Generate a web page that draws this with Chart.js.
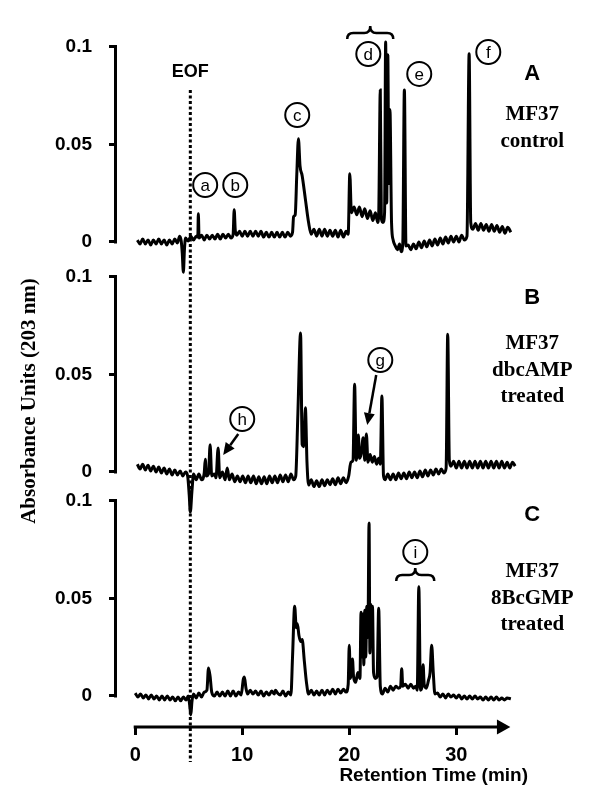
<!DOCTYPE html>
<html>
<head>
<meta charset="utf-8">
<script src="https://cdn.jsdelivr.net/npm/chart.js@4.4.0/dist/chart.umd.min.js"></script>
<style>
  body { margin: 0; background: #fff; }
  #wrap { position: relative; width: 600px; height: 800px; }
  #wrap canvas { position: absolute; left: 0; top: 0; }
</style>
</head>
<body>
<div id="wrap">
  <canvas id="chartA" width="600" height="800"></canvas>
  <canvas id="chartB" width="600" height="800"></canvas>
  <canvas id="chartC" width="600" height="800"></canvas>
</div>
<script>
// retention time (min), absorbance (AU)
const panelA = [
  [0.2,0.001],[0.45,-0.001],[0.7,0.0015],[0.95,-0.001],[1.2,0.001],[1.45,-0.0015],[1.7,0.001],[1.95,-0.001],
  [2.2,0.0015],[2.45,-0.001],[2.7,0.001],[2.95,-0.0015],[3.2,0.001],[3.45,-0.001],[3.7,0.0015],[3.95,-0.0005],
  [4.15,0.003],[4.3,0.0005],[4.4,-0.006],[4.5,-0.0155],[4.6,-0.004],[4.7,0.002],[4.95,0.0005],[5.2,0.003],
  [5.45,0.001],[5.7,0.003],[5.85,0.0025],[5.9,0.0145],[5.97,0.002],[6.2,0.0035],[6.45,0.001],[6.7,0.0035],
  [6.95,0.0015],[7.2,0.0035],[7.45,0.0015],[7.7,0.004],[7.95,0.0015],[8.2,0.004],[8.45,0.002],[8.7,0.004],
  [8.95,0.002],[9.15,0.004],[9.25,0.0165],[9.35,0.006],[9.5,0.0035],[9.75,0.0055],[10.0,0.003],[10.25,0.0055],
  [10.5,0.003],[10.75,0.0055],[11.0,0.003],[11.25,0.0055],[11.5,0.003],[11.75,0.0055],[12.0,0.0025],[12.25,0.005],
  [12.5,0.0025],[12.75,0.005],[13.0,0.0025],[13.25,0.005],[13.5,0.0025],[13.75,0.005],[14.0,0.0025],[14.25,0.005],
  [14.5,0.003],[14.7,0.005],[14.8,0.013],[14.95,0.014],[15.1,0.035],[15.25,0.053],[15.4,0.039],[15.6,0.034],
  [15.9,0.022],[16.2,0.01],[16.45,0.004],[16.7,0.0065],[16.95,0.003],[17.2,0.0065],[17.45,0.003],[17.7,0.0065],
  [17.95,0.003],[18.2,0.006],[18.45,0.003],[18.7,0.006],[18.95,0.0025],[19.2,0.006],[19.45,0.0025],[19.7,0.0055],
  [19.9,0.004],[20.05,0.035],[20.2,0.015],[20.45,0.018],[20.7,0.014],[20.95,0.018],[21.2,0.013],[21.45,0.017],
  [21.7,0.012],[21.95,0.016],[22.2,0.011],[22.45,0.015],[22.65,0.01],[22.75,0.014],[22.9,0.078],[23.0,0.012],
  [23.15,0.01],[23.3,0.015],[23.4,0.1025],[23.5,0.02],[23.6,0.096],[23.7,0.03],[23.8,0.068],[23.95,0.01],
  [24.1,0.001],[24.3,-0.002],[24.5,-0.004],[24.7,-0.001],[24.85,-0.005],[25.0,-0.001],[25.15,0.078],[25.3,-0.002],
  [25.5,-0.0015],[25.75,-0.004],[26.0,-0.001],[26.25,-0.0035],[26.5,0.0],[26.75,-0.003],[27.0,0.0005],[27.25,-0.0025],
  [27.5,0.001],[27.75,-0.002],[28.0,0.0015],[28.25,-0.0015],[28.5,0.002],[28.75,-0.001],[29.0,0.0025],[29.25,-0.0005],
  [29.5,0.003],[29.75,0.0],[30.0,0.003],[30.25,0.0],[30.5,0.0035],[30.75,0.001],[31.0,0.003],[31.2,0.0965],
  [31.35,0.01],[31.55,0.0065],[31.8,0.0095],[32.05,0.006],[32.3,0.0095],[32.55,0.006],[32.8,0.009],[33.05,0.0055],
  [33.3,0.009],[33.55,0.0055],[33.8,0.0085],[34.05,0.005],[34.3,0.008],[34.55,0.0045],[34.8,0.0075],[35.1,0.005]
];

const panelB = [
  [0.2,0.004],[0.45,0.0015],[0.7,0.004],[0.95,0.001],[1.2,0.0035],[1.45,0.0005],[1.7,0.003],[1.95,0.0],
  [2.2,0.0025],[2.45,-0.0005],[2.7,0.002],[2.95,-0.001],[3.2,0.0015],[3.45,-0.0015],[3.7,0.001],[3.95,-0.0015],
  [4.2,0.0005],[4.45,-0.002],[4.7,0.0],[4.9,-0.002],[5.05,-0.012],[5.15,-0.0205],[5.3,-0.01],[5.45,-0.001],
  [5.7,-0.004],[5.95,-0.001],[6.2,-0.004],[6.45,-0.0005],[6.55,0.0065],[6.65,-0.002],[6.85,-0.001],[7.0,0.014],
  [7.15,-0.002],[7.4,-0.001],[7.55,-0.003],[7.75,0.0123],[7.9,-0.003],[8.15,0.0],[8.4,-0.004],[8.6,0.002],
  [8.8,-0.004],[9.05,-0.001],[9.3,-0.005],[9.55,-0.002],[9.8,-0.005],[10.05,-0.002],[10.3,-0.0055],[10.55,-0.002],
  [10.8,-0.0055],[11.05,-0.002],[11.3,-0.006],[11.55,-0.0025],[11.8,-0.006],[12.05,-0.0025],[12.3,-0.006],[12.55,-0.002],
  [12.8,-0.0055],[13.05,-0.002],[13.3,-0.0055],[13.55,-0.0015],[13.8,-0.005],[14.05,-0.0015],[14.3,-0.005],[14.55,-0.001],
  [14.8,-0.004],[15.0,-0.002],[15.2,0.03],[15.45,0.0713],[15.6,0.014],[15.75,0.013],[15.9,0.033],[16.05,0.005],
  [16.2,-0.0067],[16.45,-0.004],[16.7,-0.0075],[16.95,-0.0045],[17.2,-0.0075],[17.45,-0.004],[17.7,-0.007],[17.95,-0.004],
  [18.2,-0.0065],[18.45,-0.0035],[18.7,-0.0065],[18.95,-0.003],[19.2,-0.006],[19.45,-0.003],[19.7,-0.0055],[19.95,-0.002],
  [20.15,0.005],[20.35,0.006],[20.5,0.045],[20.65,0.006],[20.85,0.019],[20.95,0.007],[21.1,0.009],[21.3,0.0175],
  [21.45,0.006],[21.6,0.0195],[21.75,0.005],[21.95,0.009],[22.15,0.005],[22.35,0.008],[22.55,0.004],[22.75,0.007],
  [22.9,0.004],[23.05,0.039],[23.2,-0.002],[23.35,-0.004],[23.6,-0.001],[23.85,-0.004],[24.1,-0.001],[24.35,-0.004],
  [24.6,-0.0005],[24.85,-0.0035],[25.1,-0.0005],[25.35,-0.0035],[25.6,0.0],[25.85,-0.003],[26.1,0.0],[26.35,-0.003],
  [26.6,0.0005],[26.85,-0.0025],[27.1,0.001],[27.35,-0.002],[27.6,0.001],[27.85,-0.0015],[28.1,0.0015],[28.35,-0.001],
  [28.6,0.0015],[28.85,-0.0005],[29.05,0.002],[29.2,0.0707],[29.35,0.006],[29.5,0.003],[29.75,0.0055],[30.0,0.002],
  [30.25,0.0055],[30.5,0.002],[30.75,0.0055],[31.0,0.002],[31.25,0.0055],[31.5,0.002],[31.75,0.0055],[32.0,0.002],
  [32.25,0.0055],[32.5,0.002],[32.75,0.0055],[33.0,0.002],[33.25,0.0055],[33.5,0.002],[33.75,0.0055],[34.0,0.002],
  [34.25,0.0055],[34.5,0.002],[34.75,0.005],[35.0,0.002],[35.25,0.005],[35.5,0.003]
];

const panelC = [
  [0.0,0.0015],[0.25,-0.0005],[0.5,0.001],[0.75,-0.001],[1.0,0.0005],[1.25,-0.0015],[1.5,0.0005],[1.75,-0.0015],
  [2.0,0.0],[2.25,-0.002],[2.5,0.0],[2.75,-0.002],[3.0,0.0],[3.25,-0.002],[3.5,-0.0005],[3.75,-0.0025],
  [4.0,-0.0005],[4.25,-0.0025],[4.5,-0.0005],[4.75,-0.002],[4.95,0.0],[5.1,-0.005],[5.2,-0.0097],[5.3,-0.003],
  [5.45,0.001],[5.7,-0.001],[5.95,0.0015],[6.2,-0.0005],[6.45,0.002],[6.7,0.003],[6.85,0.0144],[7.0,0.01],
  [7.15,0.002],[7.4,0.0],[7.65,0.002],[7.9,0.0],[8.15,0.002],[8.4,0.0],[8.65,0.0025],[8.9,0.0],
  [9.15,0.0025],[9.4,0.0],[9.65,0.002],[9.9,0.0005],[10.1,0.0085],[10.2,0.0097],[10.35,0.004],[10.5,0.001],
  [10.75,0.003],[11.0,0.001],[11.25,0.0025],[11.5,0.0005],[11.75,0.0025],[12.0,0.0],[12.25,0.002],[12.5,0.0005],
  [12.75,0.0025],[13.0,0.001],[13.1,0.003],[13.3,0.0015],[13.55,0.0005],[13.8,0.0025],[14.05,0.0],[14.3,0.002],
  [14.55,0.0005],[14.7,0.02],[14.9,0.046],[15.05,0.035],[15.15,0.037],[15.3,0.031],[15.45,0.028],[15.6,0.029],
  [15.8,0.018],[16.0,0.007],[16.2,0.001],[16.45,0.003],[16.7,0.0005],[16.95,0.0025],[17.2,0.0005],[17.45,0.003],
  [17.7,0.0005],[17.95,0.003],[18.2,0.001],[18.45,0.0035],[18.7,0.001],[18.95,0.0035],[19.2,0.0015],[19.45,0.0035],
  [19.7,0.002],[19.9,0.006],[20.0,0.026],[20.1,0.009],[20.3,0.019],[20.4,0.01],[20.6,0.007],[20.8,0.012],
  [21.0,0.009],[21.1,0.043],[21.18,0.02],[21.28,0.042],[21.36,0.016],[21.45,0.044],[21.54,0.02],[21.64,0.046],
  [21.74,0.03],[21.85,0.0887],[21.93,0.022],[22.02,0.047],[22.1,0.028],[22.17,0.046],[22.27,0.012],[22.45,0.009],
  [22.6,0.01],[22.75,0.045],[22.9,0.005],
  [23.1,0.001],[23.35,0.004],[23.6,0.002],[23.85,0.005],[24.1,0.003],[24.35,0.005],[24.6,0.004],[24.8,0.005],
  [24.9,0.014],[25.0,0.005],[25.25,0.006],[25.5,0.004],[25.75,0.006],[26.0,0.004],[26.2,0.005],[26.35,0.003],
  [26.5,0.056],[26.65,0.003],[26.8,0.005],[26.9,0.016],[27.0,0.006],[27.2,0.004],[27.4,0.008],[27.55,0.012],
  [27.7,0.026],[27.85,0.012],[28.0,0.001],[28.25,0.0015],[28.5,-0.0005],[28.75,0.001],[29.0,-0.001],[29.25,0.001],
  [29.5,-0.0005],[29.75,0.0005],[30.0,-0.001],[30.25,0.0005],[30.5,-0.0015],[30.75,0.0],[31.0,-0.0015],[31.25,0.0],
  [31.5,-0.0015],[31.75,0.0],[32.0,-0.0015],[32.25,-0.0005],[32.5,-0.002],[32.75,-0.0005],[33.0,-0.002],[33.25,-0.0005],
  [33.5,-0.002],[33.75,-0.0005],[34.0,-0.002],[34.25,-0.001],[34.5,-0.002],[34.75,-0.001],[35.1,-0.0015]
];

const xTicks = [0, 10, 20, 30];
const yTicks = [0, 0.05, 0.1];
const EOF_TIME = 5.15;

const panelNames = ["A", "B", "C"];
const panelText = [["MF37", "control"], ["MF37", "dbcAMP", "treated"], ["MF37", "8BcGMP", "treated"]];

// circled peak labels: letter, time, absorbance (own panel)
const circlesA = [["a", 6.54, 0.0292], ["b", 9.35, 0.0292], ["c", 15.14, 0.0651], ["d", 21.78, 0.0964], ["e", 26.54, 0.0862], ["f", 32.99, 0.0974]];
const circlesB = [["g", 22.9, 0.0574], ["h", 10.0, 0.0272]];
const circlesC = [["i", 26.17, 0.0738]];

const SANS = '"Liberation Sans", Arial, sans-serif';
const SERIF = '"Liberation Serif", "Times New Roman", serif';

function drawBrace(ctx, x1, x2, yc) {
  const xm = (x1 + x2) / 2, yBar = yc + 7, yEnd = yc + 13;
  ctx.beginPath();
  ctx.moveTo(x1, yEnd);
  ctx.quadraticCurveTo(x1, yBar, x1 + 6, yBar);
  ctx.lineTo(xm - 6, yBar);
  ctx.quadraticCurveTo(xm, yBar, xm, yc);
  ctx.quadraticCurveTo(xm, yBar, xm + 6, yBar);
  ctx.lineTo(x2 - 6, yBar);
  ctx.quadraticCurveTo(x2, yBar, x2, yEnd);
  ctx.stroke();
}

function drawArrow(ctx, x1, y1, x2, y2) {
  const a = Math.atan2(y2 - y1, x2 - x1);
  const bx = x2 - 12 * Math.cos(a), by = y2 - 12 * Math.sin(a);
  ctx.beginPath();
  ctx.moveTo(x1, y1);
  ctx.lineTo(bx, by);
  ctx.stroke();
  ctx.beginPath();
  ctx.moveTo(x2, y2);
  ctx.lineTo(bx + 5.5 * Math.sin(a), by - 5.5 * Math.cos(a));
  ctx.lineTo(bx - 5.5 * Math.sin(a), by + 5.5 * Math.cos(a));
  ctx.closePath();
  ctx.fill();
}

const decor = {
  id: "decor",
  afterDraw(chart, args, o) {
    const ctx = chart.ctx;
    const X = t => chart.scales.x.getPixelForValue(t);
    const Y = v => chart.scales.y.getPixelForValue(v);
    const area = chart.chartArea;
    ctx.save();
    ctx.strokeStyle = "#000";
    ctx.fillStyle = "#000";

    // y axis bar 0 .. 0.1
    ctx.lineWidth = 3;
    ctx.beginPath();
    ctx.moveTo(area.left - 1.5, Y(0) + 1.5);
    ctx.lineTo(area.left - 1.5, Y(0.1) - 1.5);
    ctx.stroke();

    // panel letter and sample text
    ctx.textAlign = "center";
    ctx.textBaseline = "middle";
    ctx.font = "bold 22px " + SANS;
    ctx.fillText(o.name, X(37.1), Y(o.nameV));
    ctx.font = "bold 21px " + SERIF;
    o.lines.forEach((s, i) => ctx.fillText(s, X(37.1), Y(o.lineV) + i * 26.5));

    // circled letters
    ctx.lineWidth = 2;
    ctx.font = "17px " + SANS;
    o.circles.forEach(([s, t, v]) => {
      ctx.beginPath();
      ctx.arc(X(t), Y(v), 12, 0, Math.PI * 2);
      ctx.stroke();
      ctx.fillText(s, X(t), Y(v) + 1);
    });

    ctx.lineWidth = 2.5;
    (o.braces || []).forEach(([t1, t2, v]) => drawBrace(ctx, X(t1), X(t2), Y(v)));
    (o.arrows || []).forEach(([t1, v1, t2, v2]) => drawArrow(ctx, X(t1), Y(v1), X(t2), Y(v2)));

    if (o.eof) {
      ctx.font = "bold 18px " + SANS;
      ctx.fillText("EOF", X(EOF_TIME), Y(0.0872));
      ctx.lineWidth = 3;
      ctx.setLineDash([3, 2.5]);
      ctx.beginPath();
      ctx.moveTo(X(EOF_TIME), Y(0.078));
      ctx.lineTo(X(EOF_TIME), area.bottom + 35);
      ctx.stroke();
      ctx.setLineDash([]);
    }

    if (o.yTitle) {
      ctx.save();
      ctx.translate(30, 401);
      ctx.rotate(-Math.PI / 2);
      ctx.font = "bold 21px " + SERIF;
      ctx.fillText("Absorbance Units (203 nm)", 0, 0);
      ctx.restore();
    }

    if (o.xArrow) {
      const yb = area.bottom;
      ctx.lineWidth = 3;
      ctx.beginPath();
      ctx.moveTo(X(0) - 1.5, yb);
      ctx.lineTo(X(34), yb);
      ctx.stroke();
      ctx.beginPath();
      ctx.moveTo(X(33.8), yb - 7.5);
      ctx.lineTo(X(35.05), yb);
      ctx.lineTo(X(33.8), yb + 7.5);
      ctx.closePath();
      ctx.fill();
    }
    ctx.restore();
  }
};

function makePanel(id, trace, yMin, yMax, showX, decorOpts) {
  return new Chart(document.getElementById(id), {
    type: "line",
    data: {
      datasets: [{
        data: trace.map(([x, y]) => ({ x, y })),
        borderColor: "#000",
        borderWidth: 3,
        pointRadius: 0,
        cubicInterpolationMode: "monotone",
        fill: false,
        clip: false
      }]
    },
    options: {
      responsive: false,
      animation: false,
      devicePixelRatio: 1,
      layout: { padding: { top: 42, right: 72, left: 0, bottom: 0 } },
      plugins: {
        legend: { display: false },
        tooltip: { enabled: false },
        decor: decorOpts
      },
      scales: {
        x: {
          type: "linear",
          min: -1.7,
          max: 36.7,
          afterBuildTicks: s => { s.ticks = xTicks.map(v => ({ value: v })); },
          afterFit: s => { s.height = 73; },
          border: { display: false },
          grid: { display: showX, drawOnChartArea: false, drawTicks: showX, tickLength: 8, lineWidth: 3, color: "#000" },
          ticks: { display: showX, color: "#000", padding: 8, font: { family: SANS, size: 20, weight: "bold" } },
          title: {
            display: showX,
            text: "Retention Time (min)",
            align: "end",
            color: "#000",
            padding: { top: 0, bottom: 13 },
            font: { family: SANS, size: 19, weight: "bold" }
          }
        },
        y: {
          type: "linear",
          min: yMin,
          max: yMax,
          afterBuildTicks: s => { s.ticks = yTicks.map(v => ({ value: v })); },
          afterFit: s => { s.width = 117; },
          border: { display: false },
          grid: { drawOnChartArea: false, tickLength: 8, lineWidth: 3, color: "#000" },
          ticks: {
            color: "#000",
            padding: 17,
            font: { family: SANS, size: 19, weight: "bold" },
            callback: v => String(v)
          }
        }
      }
    },
    plugins: [decor]
  });
}

makePanel("chartA", panelA, -0.24872, 0.10256, false, {
  name: panelNames[0], nameV: 0.0862, lines: panelText[0], lineV: 0.0651,
  circles: circlesA, braces: [[19.81, 24.11, 0.1108]], eof: true
});
makePanel("chartB", panelB, -0.13077, 0.22051, false, {
  name: panelNames[1], nameV: 0.0892, lines: panelText[1], lineV: 0.0656,
  circles: circlesB, arrows: [[22.52, 0.0497, 21.68, 0.0241], [9.63, 0.0195, 8.22, 0.0087]], yTitle: true
});
makePanel("chartC", panelC, -0.0159, 0.33538, true, {
  name: panelNames[2], nameV: 0.0928, lines: panelText[2], lineV: 0.0636,
  circles: circlesC, braces: [[24.39, 27.94, 0.0656]], xArrow: true
});
</script>
</body>
</html>
